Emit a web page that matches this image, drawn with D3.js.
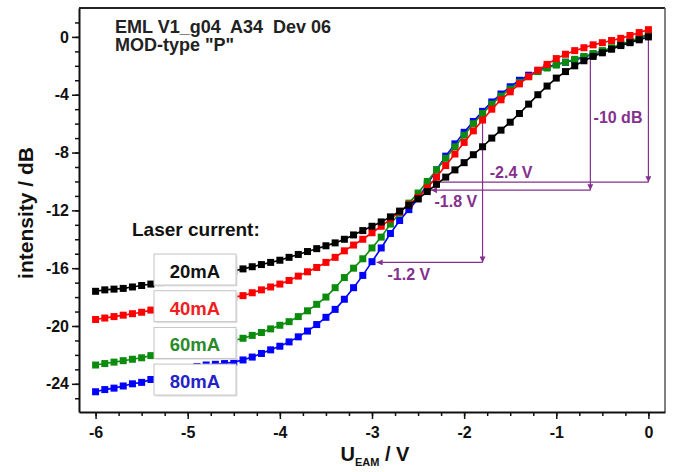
<!DOCTYPE html>
<html>
<head>
<meta charset="utf-8">
<script src="https://cdn.jsdelivr.net/npm/d3@7"></script>
<style>
  html, body { margin: 0; padding: 0; background: #fff; }
  svg { display: block; font-family: "Liberation Sans", Arial, sans-serif; font-weight: bold; }
</style>
</head>
<body>
<svg></svg>
<script>
// bias voltage grid, -6 V .. 0 V in 0.1 V steps
const voltages = d3.range(61).map(i => +(-6 + i * 0.1).toFixed(1));

// intensity in dB
const current20 = [
    -17.6, -17.5, -17.45, -17.4, -17.3, -17.2, -17.1, -17.0, -16.9, -16.8,
    -16.75, -16.65, -16.55, -16.45, -16.3, -16.2, -16.05, -15.9, -15.75, -15.6,
    -15.45, -15.25, -15.05, -14.85, -14.65, -14.45, -14.25, -14.0, -13.7, -13.4,
    -13.1, -12.8, -12.45, -12.05, -11.65, -11.2, -10.7, -10.2, -9.7, -9.2,
    -8.7, -8.15, -7.6, -7.0, -6.45, -5.9, -5.3, -4.65, -4.0, -3.4,
    -2.85, -2.4, -2.0, -1.65, -1.35, -1.1, -0.85, -0.6, -0.4, -0.2,
    0.0
];
const current40 = [
    -19.55, -19.45, -19.35, -19.25, -19.15, -19.05, -18.9, -18.8, -18.7, -18.6,
    -18.5, -18.4, -18.3, -18.2, -18.1, -18.0, -17.9, -17.7, -17.5, -17.3,
    -17.1, -16.85, -16.55, -16.25, -15.95, -15.6, -15.25, -14.8, -14.4, -14.0,
    -13.55, -13.1, -12.6, -12.1, -11.6, -11.1, -10.45, -9.7, -8.9, -8.1,
    -7.3, -6.5, -5.75, -5.0, -4.35, -3.8, -3.25, -2.75, -2.3, -1.9,
    -1.5, -1.2, -0.95, -0.75, -0.55, -0.4, -0.25, -0.1, 0.1, 0.3,
    0.5
];
const current60 = [
    -22.7, -22.6, -22.5, -22.4, -22.3, -22.2, -22.05, -21.95, -21.85, -21.7,
    -21.6, -21.5, -21.35, -21.25, -21.1, -21.0, -20.85, -20.65, -20.45, -20.2,
    -19.95, -19.7, -19.35, -18.95, -18.5, -18.0, -17.35, -16.65, -16.0, -15.35,
    -14.6, -13.85, -12.95, -12.2, -11.5, -10.8, -10.0, -9.2, -8.4, -7.6,
    -6.8, -6.0, -5.3, -4.65, -4.1, -3.6, -3.15, -2.75, -2.4, -2.15,
    -1.95, -1.75, -1.55, -1.35, -1.15, -0.95, -0.75, -0.5, -0.3, -0.05,
    0.2
];
const current80 = [
    -24.55, -24.4, -24.3, -24.15, -24.0, -23.9, -23.7, -23.55, -23.35, -23.15,
    -22.95, -22.8, -22.7, -22.65, -22.6, -22.5, -22.35, -22.15, -21.9, -21.65,
    -21.4, -21.1, -20.75, -20.35, -19.9, -19.4, -18.85, -18.15, -17.35, -16.5,
    -15.55, -14.6, -13.6, -12.7, -11.95, -11.2, -10.2, -9.2, -8.25, -7.4,
    -6.6, -5.85, -5.15, -4.5, -3.95, -3.45, -3.0, -2.65, -2.35, -2.1,
    -1.9, -1.75, -1.6, -1.4, -1.2, -1.0, -0.8, -0.55, -0.35, -0.1,
    0.15
];

const seriesNames = ['20mA', '40mA', '60mA', '80mA'];
const seriesColors = ['#000000', '#ff0000', '#0c8c0c', '#0000ff'];
const legendColors = ['#111111', '#f02020', '#2a8a2a', '#2323c8'];

const xTicks = [-6, -5, -4, -3, -2, -1, 0];
const yTicks = [-24, -20, -16, -12, -8, -4, 0];

// purple -10 dB construction
const dropLines = [
    { v: 0, top: 0, bottom: -10.05 },
    { v: -0.63, top: -1.25, bottom: -10.6 },
    { v: -1.8, top: -5.9, bottom: -15.6 }
];
const spanLines = [
    { dB: -10.05, from: 0, to: -2.36 },
    { dB: -10.6, from: -0.63, to: -2.36 },
    { dB: -15.6, from: -1.8, to: -2.95 }
];
const spanLabels = [
    { text: '-10 dB', v: -0.33, dB: -5.95 },
    { text: '-2.4 V', v: -1.49, dB: -9.75 },
    { text: '-1.8 V', v: -2.09, dB: -11.76 },
    { text: '-1.2 V', v: -2.6, dB: -16.8 }
];

const svgWidth = 674;
const svgHeight = 472;
const plot = { left: 79, right: 665, top: 8, bottom: 412 };
const purple = '#84308e';

const xScale = d3.scaleLinear()
    .domain([-6.18, 0.18])
    .range([plot.left, plot.right]);

const yScale = d3.scaleLinear()
    .domain([-25.95, 2.0])
    .range([plot.bottom, plot.top]);

const svg = d3.select('svg')
    .attr('width', svgWidth)
    .attr('height', svgHeight);

const defs = svg.append('defs');
defs.append('marker')
    .attr('id', 'arrow')
    .attr('viewBox', '0 0 10 10')
    .attr('refX', 10)
    .attr('refY', 5)
    .attr('markerWidth', 7)
    .attr('markerHeight', 6)
    .attr('markerUnits', 'userSpaceOnUse')
    .attr('orient', 'auto')
    .append('path')
    .attr('d', 'M0,0 L10,5 L0,10 z')
    .attr('fill', purple);

// frame (top + right)
svg.append('line')
    .attr('x1', plot.left).attr('x2', plot.right)
    .attr('y1', plot.top).attr('y2', plot.top)
    .attr('stroke', '#222').attr('stroke-width', 2);
svg.append('line')
    .attr('x1', plot.right).attr('x2', plot.right)
    .attr('y1', plot.top).attr('y2', plot.bottom)
    .attr('stroke', '#555').attr('stroke-width', 1.5);

// annotation lines
svg.selectAll('.drop')
    .data(dropLines)
    .enter()
    .append('line')
    .attr('x1', d => xScale(d.v)).attr('x2', d => xScale(d.v))
    .attr('y1', d => yScale(d.top)).attr('y2', d => yScale(d.bottom))
    .attr('stroke', purple)
    .attr('stroke-width', 1.2)
    .attr('marker-end', 'url(#arrow)');

svg.selectAll('.span')
    .data(spanLines)
    .enter()
    .append('line')
    .attr('x1', d => xScale(d.from)).attr('x2', d => xScale(d.to))
    .attr('y1', d => yScale(d.dB)).attr('y2', d => yScale(d.dB))
    .attr('stroke', purple)
    .attr('stroke-width', 1.2)
    .attr('marker-end', 'url(#arrow)');

// curves
const series = [current20, current40, current60, current80];
const order = [3, 2, 1, 0];

const line = d3.line()
    .x((d, i) => xScale(voltages[i]))
    .y(d => yScale(d));

order.forEach(k => {
    const g = svg.append('g');
    g.append('path')
        .datum(series[k])
        .attr('d', line)
        .attr('fill', 'none')
        .attr('stroke', seriesColors[k])
        .attr('stroke-width', 1.6);
    g.selectAll('rect')
        .data(series[k])
        .enter()
        .append('rect')
        .attr('x', (d, i) => xScale(voltages[i]) - 3.5)
        .attr('y', d => yScale(d) - 3.5)
        .attr('width', 7)
        .attr('height', 7)
        .attr('fill', seriesColors[k]);
});

svg.selectAll('.anno')
    .data(spanLabels)
    .enter()
    .append('text')
    .attr('x', d => xScale(d.v))
    .attr('y', d => yScale(d.dB))
    .attr('text-anchor', 'middle')
    .attr('font-size', '16px')
    .attr('fill', purple)
    .text(d => d.text);

// axes - plain hyphen for the minus sign, as in the original
const plainNum = d => String(d);

const xAxis = svg.append('g')
    .attr('transform', `translate(0, ${plot.bottom})`);
xAxis.append('g')
    .call(d3.axisBottom(xScale).tickValues(d3.range(-6, 0.01, 0.25)).tickSize(4).tickFormat(''))
    .call(g => g.select('.domain').remove());
xAxis.append('g')
    .call(d3.axisBottom(xScale).tickValues(xTicks).tickSize(7).tickSizeOuter(0).tickPadding(8).tickFormat(plainNum))
    .attr('font-size', '16px')
    .attr('font-family', null);

const yAxis = svg.append('g')
    .attr('transform', `translate(${plot.left}, 0)`);
yAxis.append('g')
    .call(d3.axisLeft(yScale).tickValues(d3.range(-25, 1.5, 1)).tickSize(4).tickFormat(''))
    .call(g => g.select('.domain').remove());
yAxis.append('g')
    .call(d3.axisLeft(yScale).tickValues(yTicks).tickSize(7).tickSizeOuter(0).tickPadding(3).tickFormat(plainNum))
    .attr('font-size', '16px')
    .attr('font-family', null);

svg.selectAll('.domain').attr('stroke-width', 2).attr('stroke', '#111');
svg.selectAll('.tick line').attr('stroke-width', 1.5).attr('stroke', '#111');
svg.selectAll('.tick text').attr('fill', '#111');

// axis titles
const xTitle = svg.append('text')
    .attr('x', (plot.left + plot.right) / 2 + 3)
    .attr('y', 461)
    .attr('text-anchor', 'middle')
    .attr('fill', '#111')
    .attr('font-size', '20px');
xTitle.append('tspan').text('U');
xTitle.append('tspan').attr('font-size', '11px').attr('dy', 5).text('EAM');
xTitle.append('tspan').attr('dy', -5).text(' / V');

svg.append('text')
    .attr('transform', 'translate(33, 213) rotate(-90)')
    .attr('text-anchor', 'middle')
    .attr('fill', '#111')
    .attr('font-size', '21px')
    .text('intensity / dB');

// header
svg.append('text')
    .attr('x', 115).attr('y', 33)
    .attr('font-size', '18px')
    .attr('fill', '#222')
    .attr('xml:space', 'preserve')
    .style('white-space', 'pre')
    .text('EML V1_g04  A34  Dev 06');
svg.append('text')
    .attr('x', 115).attr('y', 51)
    .attr('font-size', '18px')
    .attr('fill', '#222')
    .text('MOD-type "P"');

// legend
svg.append('text')
    .attr('x', 132).attr('y', 236)
    .attr('font-size', '19px')
    .attr('fill', '#111')
    .text('Laser current:');

const legend = svg.selectAll('.legend')
    .data(seriesNames)
    .enter()
    .append('g')
    .attr('transform', (d, i) => `translate(154, ${254 + i * 36.7})`);

legend.append('rect')
    .attr('x', 1.5).attr('y', 1.5)
    .attr('width', 82).attr('height', 31)
    .attr('fill', '#e4e4e4');
legend.append('rect')
    .attr('width', 82).attr('height', 31)
    .attr('fill', '#fff')
    .attr('stroke', '#c4c4c4')
    .attr('stroke-width', 1);
legend.append('text')
    .attr('x', 41).attr('y', 24)
    .attr('text-anchor', 'middle')
    .attr('font-size', '18.5px')
    .attr('fill', (d, i) => legendColors[i])
    .text(d => d);
</script>
</body>
</html>
